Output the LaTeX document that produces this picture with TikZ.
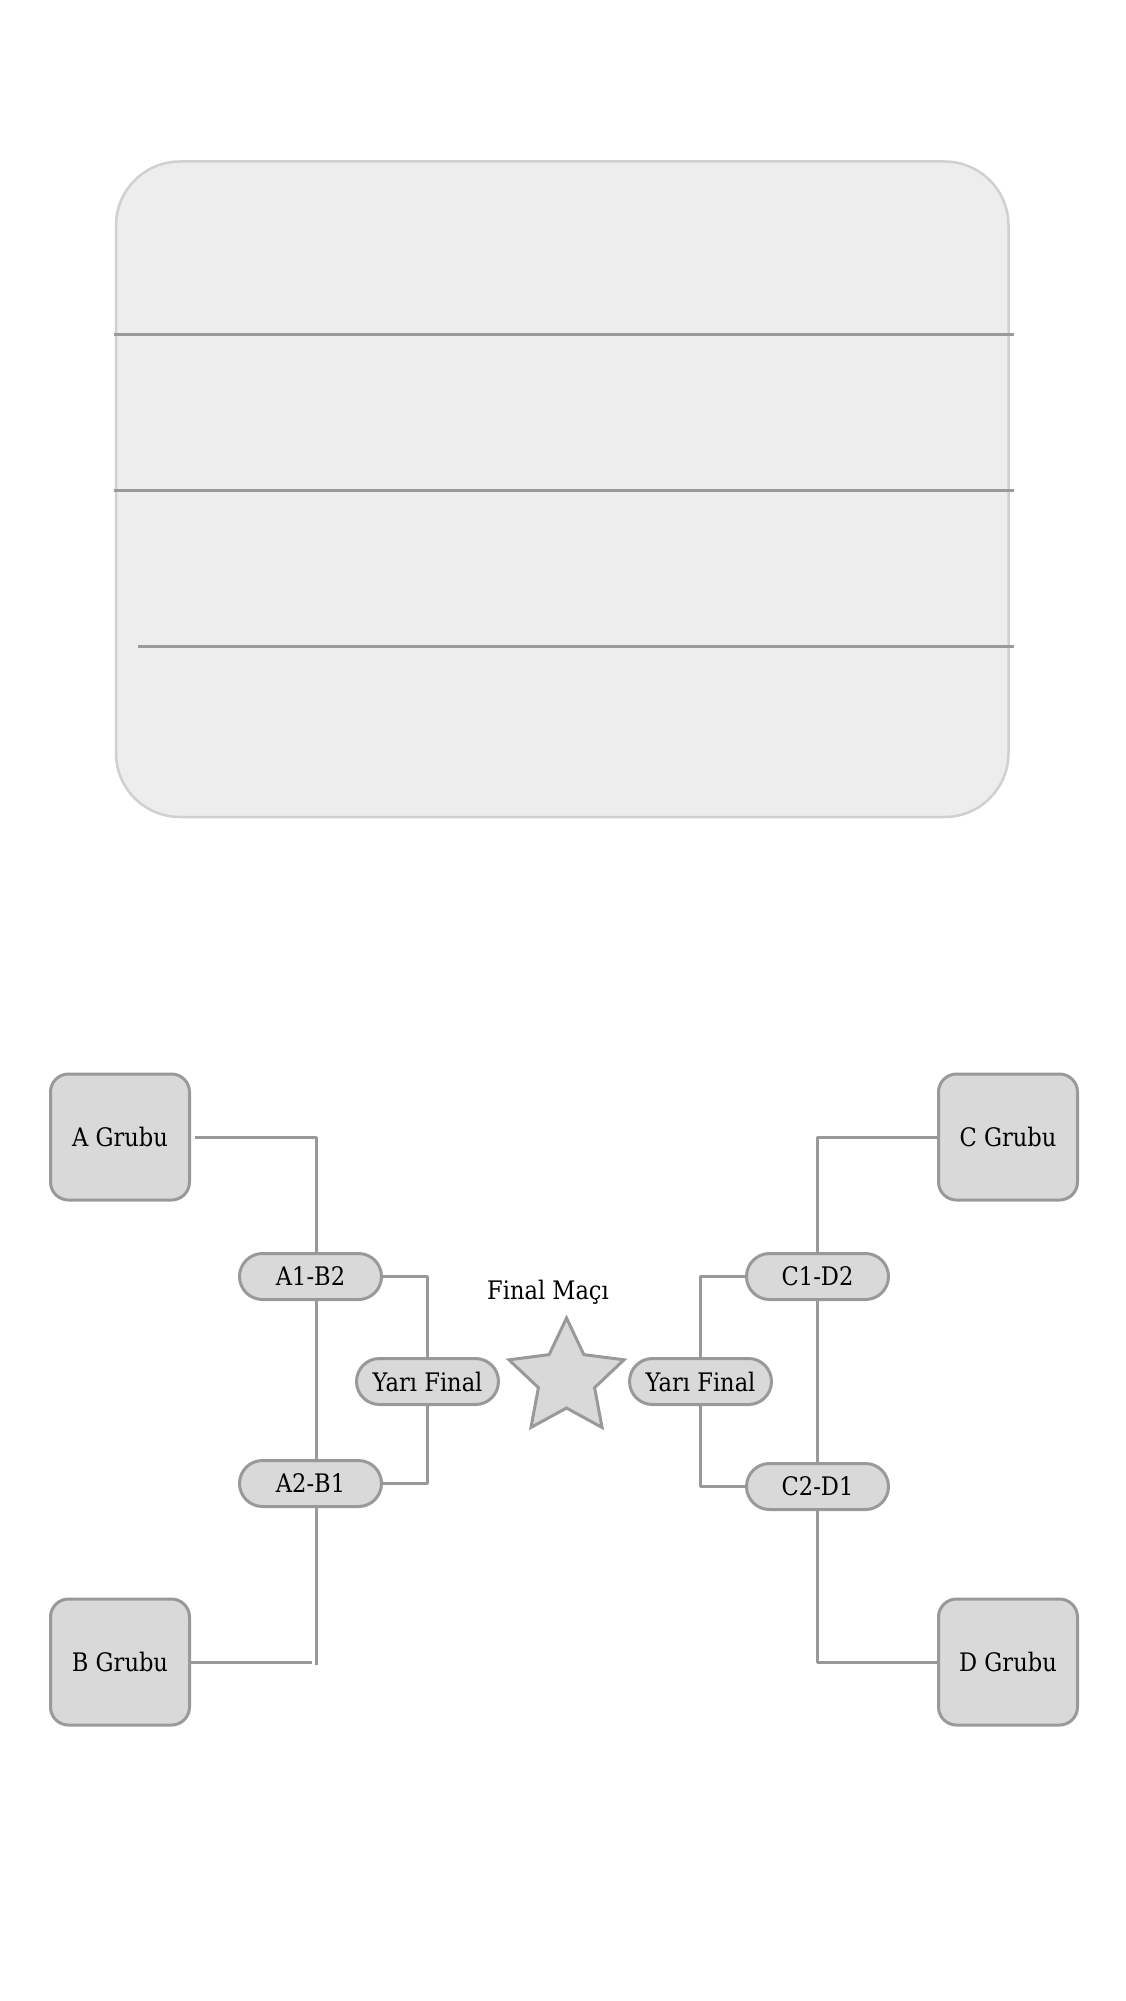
\documentclass[tikz,border=0pt]{standalone}
\usepackage{fontspec}
\setmainfont[FakeStretch=0.885]{DejaVu Serif}
\usetikzlibrary{shapes.geometric}
\definecolor{linegray}{HTML}{999999}
\definecolor{boxgray}{HTML}{D9D9D9}
\definecolor{panelgray}{HTML}{EDEDED}
\definecolor{framegray}{HTML}{D0D0D0}
\begin{document}
\begin{tikzpicture}[x=1pt, y=-1pt, line join=round, font=\fontsize{25.5}{30}\selectfont,
  grp/.style={draw=linegray, fill=boxgray, line width=3pt, rounded corners=18pt,
    minimum width=139pt, minimum height=126pt, inner sep=0pt},
  match/.style={draw=linegray, fill=boxgray, line width=3pt, rounded corners=23pt,
    minimum width=142pt, minimum height=46pt, inner sep=0pt},
  link/.style={draw=linegray, line width=3pt}]
\def\W{1125} \def\H{2001}
\useasboundingbox (0,0) rectangle (\W,\H);
% ust panel
\draw[draw=framegray, fill=panelgray, line width=2.5pt, rounded corners=64pt]
  (116,161.5) rectangle (1008.5,817);
\draw[link, line width=2.5pt] (114,334.3)--(1014,334.3) (114,490.3)--(1014,490.3)
  (138,646.4)--(1014,646.4);
% gruplar
\node[grp] (A) at (120,1137) {A Grubu};
\node[grp] (B) at (120,1662) {B Grubu};
\node[grp] (C) at (1008,1137) {C Grubu};
\node[grp] (D) at (1008,1662) {D Grubu};
% maclar
\node[match] (AB) at (310.5,1276.5) {A1-B2};
\node[match] (BA) at (310.5,1483.5) {A2-B1};
\node[match] (CD) at (817.5,1276.5) {C1-D2};
\node[match] (DC) at (817.5,1486.5) {C2-D1};
\node[match] (YL) at (427.5,1381.5) {Yarı Final};
\node[match] (YR) at (700.5,1381.5) {Yarı Final};
% final
\node[star, star points=5, star point ratio=2.05, minimum size=121pt, inner sep=0pt,
  draw=linegray, fill=boxgray, line width=3pt, line join=miter] (F) at (566.5,1378.5) {};
\node (Fl) at (548,1292) {Final Maçı};
% baglantilar sol
\coordinate (a1) at (316.5,1137);
\coordinate (b1) at (312,1662);
\draw[link] ([xshift=4pt]A.east) -- (a1) -- (a1 |- AB.north);
\draw[link] ([xshift=6pt]AB.south) -- ([xshift=6pt]BA.north);
\draw[link] ([xshift=6pt]BA.south) -- ++(0,157);
\draw[link] (B.east) -- (b1);
\draw[link] (AB.east) -| (YL.north);
\draw[link] (YL.south) |- (BA.east);
% baglantilar sag
\draw[link] (C.west) -| (CD.north);
\draw[link] (CD.south) -- (DC.north);
\draw[link] (DC.south) |- (D.west);
\draw[link] (CD.west) -| (YR.north);
\draw[link] (YR.south) |- (DC.west);
\end{tikzpicture}
\end{document}
